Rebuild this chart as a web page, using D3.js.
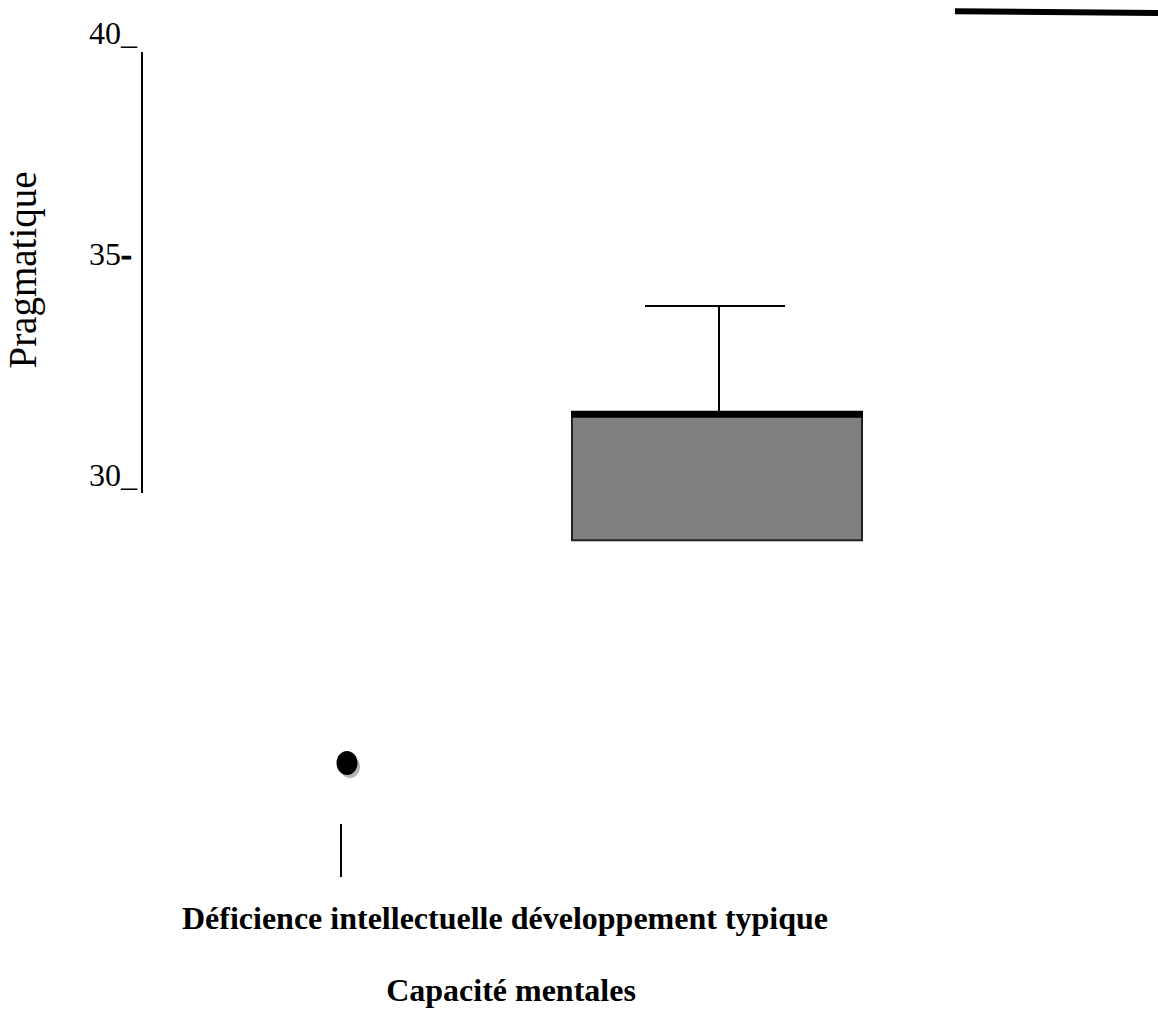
<!DOCTYPE html>
<html>
<head>
<meta charset="utf-8">
<script src="https://cdn.jsdelivr.net/npm/d3@7"></script>
<style>
  body { margin: 0; background: #fff; }
  svg { display: block; }
</style>
</head>
<body>
<svg id="chart" width="1158" height="1009"></svg>
<script>
// data
const yTicks = [40, 35, 30];
const tickMarks = ["_", "-", "_"];
const groups = ["Déficience intellectuelle", "développement typique", "(hors cadre)"];
const boxes = [{ group: 1, q1: 28.89, median: 31.62, q3: 31.62, whiskerHigh: 33.96 }];
const outliers = [{ group: 0, value: 24.07 }];
const lowWhiskers = [{ group: 0, from: 22.75, to: 21.6 }];
const strayCaps = [{ group: 2, left: 40.85, right: 40.79 }];
const xLabel = "Déficience intellectuelle développement typique";
const xTitle = "Capacité mentales";
const yTitle = "Pragmatique";

const svg = d3.select("#chart");
const serif = "'Liberation Serif', 'Times New Roman', serif";

// the original axis is not evenly spaced, so a piecewise scale
const y = d3.scaleLinear().domain([30, 35, 40]).range([489, 258, 47]);
const x = d3.scalePoint().domain(groups).range([341, 1093]);

// axe vertical
svg.append("line")
    .attr("x1", 142).attr("x2", 142)
    .attr("y1", y(40) + 5).attr("y2", y(30) + 4)
    .attr("stroke", "#000").attr("stroke-width", 2);

const ticks = svg.append("g")
    .attr("font-family", serif)
    .attr("font-size", 32)
    .selectAll("text")
    .data(yTicks)
    .enter().append("text")
    .attr("x", 89)
    .attr("y", (d, i) => y(d) + (tickMarks[i] === "-" ? 7 : -3));
ticks.append("tspan").text(d => d);
ticks.append("tspan")
    .attr("font-weight", (d, i) => tickMarks[i] === "-" ? "bold" : "normal")
    .attr("stroke", (d, i) => tickMarks[i] === "-" ? "#000" : "none")
    .attr("stroke-width", 1.2)
    .text((d, i) => tickMarks[i]);

svg.append("text")
    .attr("transform", `translate(36,270) rotate(-90)`)
    .attr("text-anchor", "middle")
    .attr("font-family", serif)
    .attr("font-size", 39)
    .text(yTitle);

// boîtes
const boxW = 290, capW = 140;
const b = svg.append("g").selectAll("g").data(boxes).enter().append("g");
b.append("line")
    .attr("x1", d => x(groups[d.group]) + 2).attr("x2", d => x(groups[d.group]) + 2)
    .attr("y1", d => y(d.whiskerHigh)).attr("y2", d => y(d.q3))
    .attr("stroke", "#000").attr("stroke-width", 2);
b.append("line")
    .attr("x1", d => x(groups[d.group]) - capW / 2 - 2).attr("x2", d => x(groups[d.group]) + capW / 2 - 2)
    .attr("y1", d => y(d.whiskerHigh)).attr("y2", d => y(d.whiskerHigh))
    .attr("stroke", "#000").attr("stroke-width", 2);
b.append("rect")
    .attr("x", d => x(groups[d.group]) - boxW / 2)
    .attr("width", boxW)
    .attr("y", d => y(d.q3))
    .attr("height", d => y(d.q1) - y(d.q3))
    .attr("fill", "#808080")
    .attr("stroke", "#222").attr("stroke-width", 2);
b.append("line")
    .attr("x1", d => x(groups[d.group]) - boxW / 2 - 1).attr("x2", d => x(groups[d.group]) + boxW / 2 + 1)
    .attr("y1", d => y(d.median)).attr("y2", d => y(d.median))
    .attr("stroke", "#000").attr("stroke-width", 7);

// trait isolé en haut à droite
svg.append("g").selectAll("line").data(strayCaps).enter().append("line")
    .attr("x1", d => x(groups[d.group]) - 138).attr("x2", d => x(groups[d.group]) + 138)
    .attr("y1", d => y(d.left)).attr("y2", d => y(d.right))
    .attr("stroke", "#000").attr("stroke-width", 6);

// groupe 1 : valeur extrême + moustache basse
const o = svg.append("g").selectAll("g").data(outliers).enter().append("g");
o.append("ellipse")
    .attr("cx", d => x(groups[d.group]) + 9).attr("cy", d => y(d.value) + 4)
    .attr("rx", 10).attr("ry", 11)
    .attr("fill", "#b4b4b4");
o.append("ellipse")
    .attr("cx", d => x(groups[d.group]) + 6).attr("cy", d => y(d.value))
    .attr("rx", 10.5).attr("ry", 12)
    .attr("fill", "#000");

svg.append("g").selectAll("line").data(lowWhiskers).enter().append("line")
    .attr("x1", d => x(groups[d.group])).attr("x2", d => x(groups[d.group]))
    .attr("y1", d => y(d.from)).attr("y2", d => y(d.to))
    .attr("stroke", "#000").attr("stroke-width", 2);

// libellés de l'axe x
svg.append("text")
    .attr("x", 505).attr("y", 929)
    .attr("text-anchor", "middle")
    .attr("font-family", serif).attr("font-weight", "bold").attr("font-size", 32)
    .text(xLabel);
svg.append("text")
    .attr("x", 511).attr("y", 1001)
    .attr("text-anchor", "middle")
    .attr("font-family", serif).attr("font-weight", "bold").attr("font-size", 32)
    .text(xTitle);
</script>
</body>
</html>
